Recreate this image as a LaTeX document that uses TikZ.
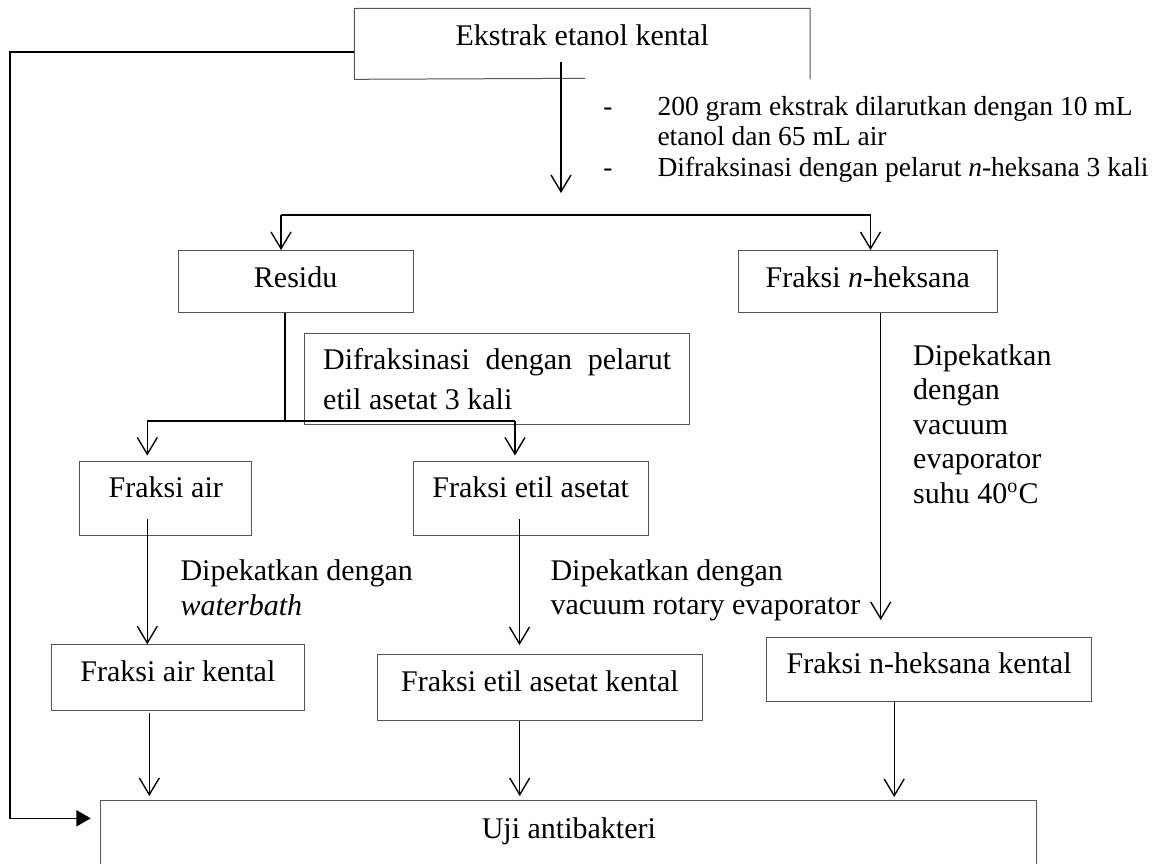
\documentclass[tikz,border=0pt]{standalone}
\usepackage{fontspec}
\setmainfont{Liberation Serif}
\usetikzlibrary{arrows.meta}
\definecolor{boxgray}{RGB}{85,85,85}
\begin{document}
\begin{tikzpicture}[x=0.4pt,y=-0.4pt,
  every node/.style={font=\fontsize{12pt}{13.8pt}\selectfont, inner sep=0pt},
  box/.style={draw=boxgray, line width=0.4pt, anchor=north west},
  boxline/.style={draw=boxgray, line width=0.4pt},
  lbl/.style={anchor=base west},
  small/.style={font=\fontsize{11pt}{12.65pt}\selectfont},
  conn/.style={line width=0.55pt, -{Straight Barb[length=6.7pt,width=8pt]}},
  heavy/.style={line width=0.65pt},
]
\useasboundingbox (0,0) rectangle (1161,863);
\clip (0,0) rectangle (1161,863);

% boxes
\node[anchor=north west, minimum width=181.84pt, text height=14.68pt, text depth=13.32pt] (ek) at (354.4,8.3) {Ekstrak etanol kental};
\coordinate (ekGap) at (585,78.3);
\draw[boxline] (ekGap) -- (ek.south west) -- (ek.north west) -- (ek.north east) -- (ek.south east);

\node[box, minimum width=94pt, text height=14.8pt, text depth=10.12pt] (res) at (177.6,250) {Residu};
\node[box, minimum width=103.8pt, text height=14.8pt, text depth=10.12pt] (nhx) at (737.5,250) {Fraksi \textit{n}-heksana};

\node[box, minimum width=154.12pt, minimum height=36.64pt] (note2) at (303.5,332.7) {};
\node[lbl] (n2a) at (322.7,369) {\makebox[139.2pt][s]{Difraksinasi dengan pelarut}};
\node[lbl] (n2b) at (322.7,409) {etil asetat 3 kali};

\node[box, minimum width=68.88pt, text height=14.6pt, text depth=15.32pt] (fa) at (79.2,460.5) {Fraksi air};
\node[box, minimum width=94.08pt, text height=14.6pt, text depth=15.32pt] (fe) at (412.6,460.5) {Fraksi etil asetat};

\node[box, minimum width=100.88pt, text height=14.68pt, text depth=11.6pt] (fak) at (51.3,644.3) {Fraksi air kental};
\node[box, minimum width=129.92pt, text height=14.68pt, text depth=11.6pt] (fek) at (377,654.3) {Fraksi etil asetat kental};
\node[box, minimum width=130.08pt, text height=14.6pt, text depth=11.2pt] (fnk) at (766,636.5) {Fraksi n-heksana kental};

\node[box, minimum width=374.44pt, text height=15.2pt, text depth=32pt] (uji) at (100.3,800) {Uji antibakteri};

% labels
\node[anchor=base, small] (d1) at (608,115) {-};
\node[anchor=base, small] (d2) at (608,176) {-};
\node[lbl, small] (t1a) at (657,115) {200 gram ekstrak dilarutkan dengan 10 mL};
\node[lbl, small] (t1b) at (657,145.5) {etanol dan 65 mL air};
\node[lbl, small] (t2) at (657,176) {Difraksinasi dengan pelarut \textit{n}-heksana 3 kali};

\node[lbl] (l1a) at (180,580) {Dipekatkan dengan};
\node[lbl] (l1b) at (180,615) {\textit{waterbath}};
\node[lbl] (l2a) at (550,580) {Dipekatkan dengan};
\node[lbl] (l2b) at (550,614) {vacuum rotary evaporator};
\node[lbl] (l3a) at (912.7,365) {Dipekatkan};
\node[lbl] (l3b) at (912.7,399.5) {dengan};
\node[lbl] (l3c) at (912.7,434) {vacuum};
\node[lbl] (l3d) at (912.7,468.5) {evaporator};
\node[lbl] (l3e) at (912.7,503) {suhu 40\textsuperscript{o}C};

% connectors
\coordinate (loopA) at (10.3,51.7);
\coordinate (loopB) at (10.3,818.3);
\coordinate (ujiIn) at (90.7,818.3);
\draw[heavy, -{Triangle[length=5.7pt,width=6.4pt]}] (ek.west |- loopA) -- (loopA) -- (loopB) -- (ujiIn);

\coordinate (ekOut) at (561,62);
\coordinate (ekEnd) at (561,193);
\draw[conn] (ekOut) -- (ekEnd);

\coordinate (sL) at (281,215);
\coordinate (sR) at (870.5,215);
\draw[heavy] (sL) -- (sR);
\draw[conn] (sL) -- (sL |- res.north);
\draw[conn] (sR) -- (sR |- nhx.north);

\coordinate (s2M) at (285,420.7);
\coordinate (s2L) at (147.3,420.7);
\coordinate (s2R) at (515,420.7);
\draw[heavy] (res.south -| s2M) -- (s2M);
\draw[heavy] (s2L) -- (s2R);
\draw[conn, shorten >=2pt] (s2L) -- (s2L |- fa.north);
\draw[conn, shorten >=2pt] (s2R) -- (s2R |- fe.north);

\coordinate (faOut) at (147.3,519.3);
\draw[conn] (faOut) -- (faOut |- fak.north);
\coordinate (feOut) at (519.5,519.3);
\draw[conn, shorten >=3.7pt] (feOut) -- (feOut |- fek.north);
\coordinate (nhOut) at (880.7,312.3);
\draw[conn, shorten >=6.6pt] (nhx.south -| nhOut) -- (nhOut |- fnk.north);

\coordinate (fakOut) at (149.3,713.3);
\draw[conn, shorten >=1.6pt] (fakOut) -- (fakOut |- uji.north);
\coordinate (fekOut) at (519.7,720);
\draw[conn, shorten >=1.6pt] (fek.south -| fekOut) -- (fekOut |- uji.north);
\coordinate (fnkOut) at (894.2,701);
\draw[conn, shorten >=1.2pt] (fnk.south -| fnkOut) -- (fnkOut |- uji.north);
\end{tikzpicture}
\end{document}
